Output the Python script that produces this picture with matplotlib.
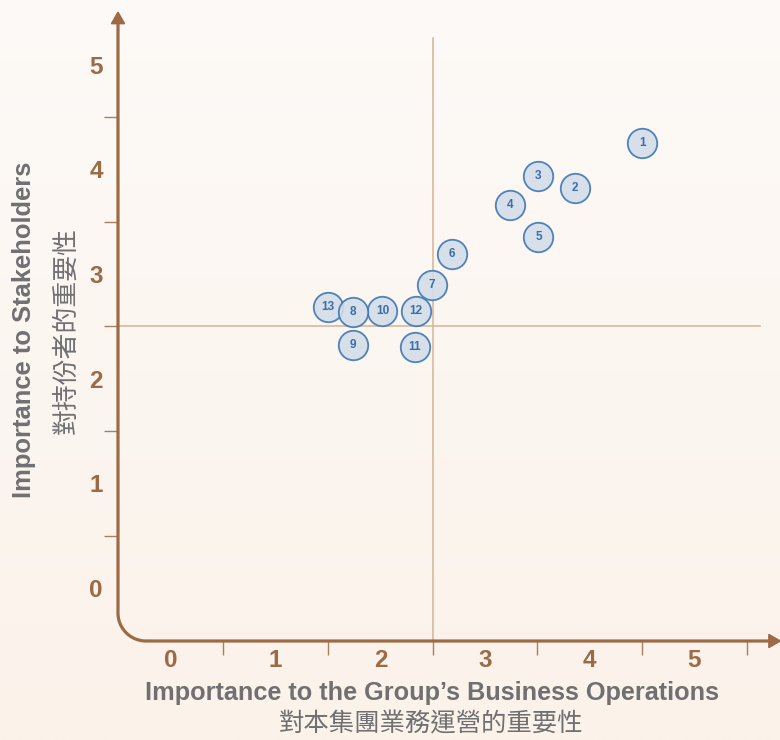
import numpy as np
import matplotlib
matplotlib.use("Agg")
import matplotlib.pyplot as plt
from matplotlib.patches import Polygon
from matplotlib.colors import LinearSegmentedColormap

# ---- data ----
labels = ["1", "2", "3", "4", "5", "6", "7", "8", "9", "10", "11", "12", "13"]
business = [4.50, 3.86, 3.51, 3.24, 3.51, 2.68, 2.49, 1.74, 1.74, 2.02, 2.33, 2.34, 1.50]
stakeholders = [4.25, 3.82, 3.94, 3.66, 3.35, 3.19, 2.89, 2.64, 2.32, 2.65, 2.30, 2.65, 2.68]
tick_values = [0, 1, 2, 3, 4, 5]
xlabel_en = "Importance to the Group\u2019s Business Operations"
xlabel_zh = "對本集團業務運營的重要性"
ylabel_en = "Importance to Stakeholders"
ylabel_zh = "對持份者的重要性"

AX_COL = "#9c6b45"
TICK_COL = "#a88061"
LABEL_GRAY = "#707073"
CROSS_COL = "#d8b89c"

fig = plt.figure(figsize=(7.8, 7.4), dpi=100)

# background gradient
bg = fig.add_axes([0, 0, 1, 1], zorder=-10)
cmap = LinearSegmentedColormap.from_list("bg", ["#fbf2ea", "#fdfaf7"])
bg.imshow(np.linspace(0, 1, 256).reshape(-1, 1), aspect="auto", cmap=cmap,
          origin="lower", extent=[0, 1, 0, 1])
bg.axis("off")

x0, x1 = -0.506, 5.80
y0, y1 = -0.506, 5.50
ax = fig.add_axes([118 / 780, 99 / 740, (x1 - x0) * 104.7 / 780, (y1 - y0) * 104.7 / 740])
ax.set_facecolor("none")
ax.set_xlim(x0, x1)
ax.set_ylim(y0, y1)
for s in ax.spines.values():
    s.set_visible(False)

# custom axis line with rounded corner
r = 0.267
t = np.linspace(np.pi, 1.5 * np.pi, 40)
arc_x = x0 + r + r * np.cos(t)
arc_y = y0 + r + r * np.sin(t)
path_x = np.concatenate([[x0], arc_x, [5.72]])
path_y = np.concatenate([[5.40], arc_y, [y0]])
ax.plot(path_x, path_y, color=AX_COL, lw=2.3, clip_on=False, solid_capstyle="butt", zorder=3)
ax.add_patch(Polygon([[x0, 5.50], [x0 - 0.063, 5.39], [x0 + 0.063, 5.39]],
                     closed=True, color=AX_COL, clip_on=False, zorder=3))
ax.add_patch(Polygon([[5.82, y0], [5.71, y0 - 0.063], [5.71, y0 + 0.063]],
                     closed=True, color=AX_COL, clip_on=False, zorder=3))

# crosshair
ax.plot([2.5, 2.5], [y0, 5.25], color=CROSS_COL, lw=1.2, zorder=1)
ax.plot([x0, 5.63], [2.5, 2.5], color=CROSS_COL, lw=1.2, zorder=1)

# ticks
ax.set_xticks(tick_values)
ax.set_yticks(tick_values)
ax.set_xticklabels([str(v) for v in tick_values])
ax.set_yticklabels([str(v) for v in tick_values])
ax.set_xticks([v + 0.5 for v in tick_values], minor=True)
ax.set_yticks([v + 0.5 for v in tick_values[:-1]], minor=True)
ax.tick_params(which="major", length=0, labelsize=17.5, labelcolor=AX_COL)
ax.tick_params(axis="x", which="major", pad=6)
ax.tick_params(axis="y", which="major", pad=11)
ax.tick_params(which="minor", length=10, width=1.0, color=TICK_COL, direction="out")
for lab in ax.get_xticklabels() + ax.get_yticklabels():
    lab.set_fontweight("bold")
    lab.set_fontfamily("Liberation Sans")

# points (drawn in reverse so lower numbers sit on top)
for i in reversed(range(len(labels))):
    ax.scatter(business[i], stakeholders[i], s=450, facecolor="#d3dde9", alpha=0.9,
               edgecolor="#3f77b5", linewidth=1.3, zorder=4 + (len(labels) - i) * 0.01,
               clip_on=False)
    ax.text(business[i], stakeholders[i], labels[i], ha="center", va="center",
            fontsize=8.5, fontweight="bold", color="#3a6eab",
            family="Liberation Sans", zorder=5 + (len(labels) - i) * 0.01)

# axis titles
fig.text(432 / 780, 1 - 693 / 740, xlabel_en, ha="center", va="center", fontsize=18.2,
         fontweight="bold", color=LABEL_GRAY, family="Liberation Sans")
fig.text(431 / 780, 1 - 724 / 740, xlabel_zh, ha="center", va="center", fontsize=18.3,
         color=LABEL_GRAY, family=["Noto Sans CJK TC", "DejaVu Sans"])
fig.text(24 / 780, 1 - 330 / 740, ylabel_en, ha="center", va="center", fontsize=18.4,
         fontweight="bold", color=LABEL_GRAY, rotation=90, family="Liberation Sans")
fig.text(66 / 780, 1 - 330 / 740, ylabel_zh, ha="center", va="center", fontsize=18.6,
         color=LABEL_GRAY, rotation=90, family=["Noto Sans CJK TC", "DejaVu Sans"])

fig.savefig("out.png", dpi=100)
